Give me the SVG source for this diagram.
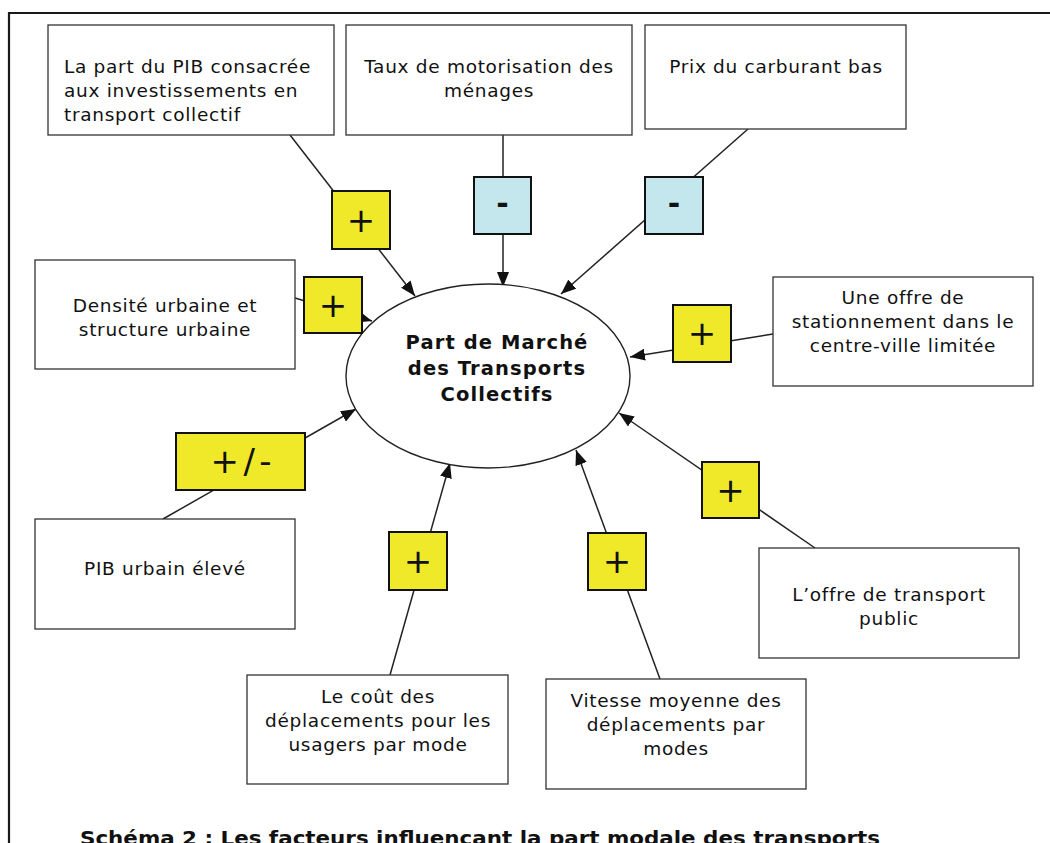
<svg xmlns="http://www.w3.org/2000/svg" width="1050" height="843" viewBox="0 0 1050 843">
  <style>
    .box { fill: #ffffff; stroke: #333333; stroke-width: 1.3; }
    .sign-pos { fill: #efe92a; stroke: #111111; stroke-width: 2; }
    .sign-neg { fill: #c4e7ee; stroke: #111111; stroke-width: 2; }
    .txt { font-family: "DejaVu Sans", Verdana, sans-serif; font-size: 18.5px; letter-spacing: 0.7px; fill: #111111; }
    .mid { text-anchor: middle; }
    .core { font-family: "DejaVu Sans", Verdana, sans-serif; font-size: 19.5px; font-weight: bold; letter-spacing: 1.1px; fill: #111111; text-anchor: middle; }
    .sym { font-family: "DejaVu Sans", Verdana, sans-serif; font-size: 34px; fill: #111111; text-anchor: middle; }
    .dash { font-family: "DejaVu Sans", Verdana, sans-serif; font-size: 30px; font-weight: bold; fill: #111111; text-anchor: middle; }
    .link { stroke: #222222; stroke-width: 1.5; fill: none; marker-end: url(#arrow); }
    .caption { font-family: "DejaVu Sans", Verdana, sans-serif; font-size: 20px; font-weight: bold; fill: #111111; }
  </style>
  <defs>
    <marker id="arrow" viewBox="0 0 15 12" refX="15" refY="6" markerWidth="15" markerHeight="12" markerUnits="userSpaceOnUse" orient="auto">
      <path d="M0,0 L15,6 L0,12 z" fill="#111111"/>
    </marker>
  </defs>

  <rect width="1050" height="843" fill="#ffffff"/>

  <!-- page frame -->
  <g id="frame">
    <path d="M9,843 V13 H1050" fill="none" stroke="#1a1a1a" stroke-width="2.2"/>
  </g>

  <!-- arrows from each factor to the central market share -->
  <g id="connectors">
    <line class="link" x1="290" y1="135" x2="415" y2="296"/>
    <line class="link" x1="503" y1="135" x2="503" y2="287"/>
    <line class="link" x1="748" y1="129" x2="561" y2="294"/>
    <line class="link" x1="295" y1="298" x2="372" y2="321"/>
    <line class="link" x1="773" y1="334" x2="630" y2="357"/>
    <line class="link" x1="163" y1="519" x2="356" y2="409"/>
    <line class="link" x1="815" y1="548" x2="619" y2="413"/>
    <line class="link" x1="390" y1="675" x2="450" y2="463"/>
    <line class="link" x1="660" y1="679" x2="576" y2="450"/>
  </g>

  <g id="core">
    <ellipse cx="488" cy="376" rx="142" ry="92" fill="#ffffff" stroke="#222222" stroke-width="1.4"/>
    <text class="core" x="497" y="349">Part de Marché</text>
    <text class="core" x="497" y="375">des Transports</text>
    <text class="core" x="497" y="401">Collectifs</text>
  </g>

  <g id="pib-investissements">
    <rect class="box" x="48" y="25" width="286" height="110"/>
    <text class="txt" x="64" y="73">La part du PIB consacrée</text>
    <text class="txt" x="64" y="97">aux investissements en</text>
    <text class="txt" x="64" y="121">transport collectif</text>
  </g>

  <g id="motorisation">
    <rect class="box" x="346" y="25" width="286" height="110"/>
    <text class="txt mid" x="489" y="73">Taux de motorisation des</text>
    <text class="txt mid" x="489" y="97">ménages</text>
  </g>

  <g id="carburant">
    <rect class="box" x="645" y="25" width="261" height="104"/>
    <text class="txt mid" x="776" y="73">Prix du carburant bas</text>
  </g>

  <g id="densite">
    <rect class="box" x="35" y="260" width="260" height="109"/>
    <text class="txt mid" x="165" y="312">Densité urbaine et</text>
    <text class="txt mid" x="165" y="336">structure urbaine</text>
  </g>

  <g id="stationnement">
    <rect class="box" x="773" y="277" width="260" height="109"/>
    <text class="txt mid" x="903" y="304">Une offre de</text>
    <text class="txt mid" x="903" y="328">stationnement dans le</text>
    <text class="txt mid" x="903" y="352">centre-ville limitée</text>
  </g>

  <g id="pib-urbain">
    <rect class="box" x="35" y="519" width="260" height="110"/>
    <text class="txt mid" x="165" y="575">PIB urbain élevé</text>
  </g>

  <g id="offre-transport">
    <rect class="box" x="759" y="548" width="260" height="110"/>
    <text class="txt mid" x="889" y="601">L’offre de transport</text>
    <text class="txt mid" x="889" y="625">public</text>
  </g>

  <g id="cout">
    <rect class="box" x="247" y="675" width="261" height="109"/>
    <text class="txt mid" x="378" y="703">Le coût des</text>
    <text class="txt mid" x="378" y="727">déplacements pour les</text>
    <text class="txt mid" x="378" y="751">usagers par mode</text>
  </g>

  <g id="vitesse">
    <rect class="box" x="546" y="679" width="260" height="110"/>
    <text class="txt mid" x="676" y="707">Vitesse moyenne des</text>
    <text class="txt mid" x="676" y="731">déplacements par</text>
    <text class="txt mid" x="676" y="755">modes</text>
  </g>

  <!-- effect signs placed on the connectors -->
  <g id="sign-pib-investissements">
    <rect class="sign-pos" x="332" y="191" width="58" height="58"/>
    <text class="sym" x="361" y="232">+</text>
  </g>
  <g id="sign-motorisation">
    <rect class="sign-neg" x="474" y="177" width="57" height="57"/>
    <text class="dash" x="502.5" y="214">-</text>
  </g>
  <g id="sign-carburant">
    <rect class="sign-neg" x="645" y="177" width="58" height="57"/>
    <text class="dash" x="674" y="214">-</text>
  </g>
  <g id="sign-densite">
    <rect class="sign-pos" x="304" y="277" width="58" height="56"/>
    <text class="sym" x="333" y="317">+</text>
  </g>
  <g id="sign-stationnement">
    <rect class="sign-pos" x="673" y="305" width="58" height="57"/>
    <text class="sym" x="702" y="345">+</text>
  </g>
  <g id="sign-pib-urbain">
    <rect class="sign-pos" x="176" y="433" width="129" height="57"/>
    <text class="sym" x="241" y="473" textLength="61" lengthAdjust="spacing">+/-</text>
  </g>
  <g id="sign-offre-transport">
    <rect class="sign-pos" x="702" y="462" width="57" height="56"/>
    <text class="sym" x="730.5" y="502">+</text>
  </g>
  <g id="sign-cout">
    <rect class="sign-pos" x="389" y="532" width="58" height="58"/>
    <text class="sym" x="418" y="573">+</text>
  </g>
  <g id="sign-vitesse">
    <rect class="sign-pos" x="588" y="533" width="58" height="57"/>
    <text class="sym" x="617" y="573">+</text>
  </g>

  <text class="caption" x="80" y="845" textLength="800" lengthAdjust="spacingAndGlyphs">Schéma 2 : Les facteurs influencant la part modale des transports</text>
</svg>
